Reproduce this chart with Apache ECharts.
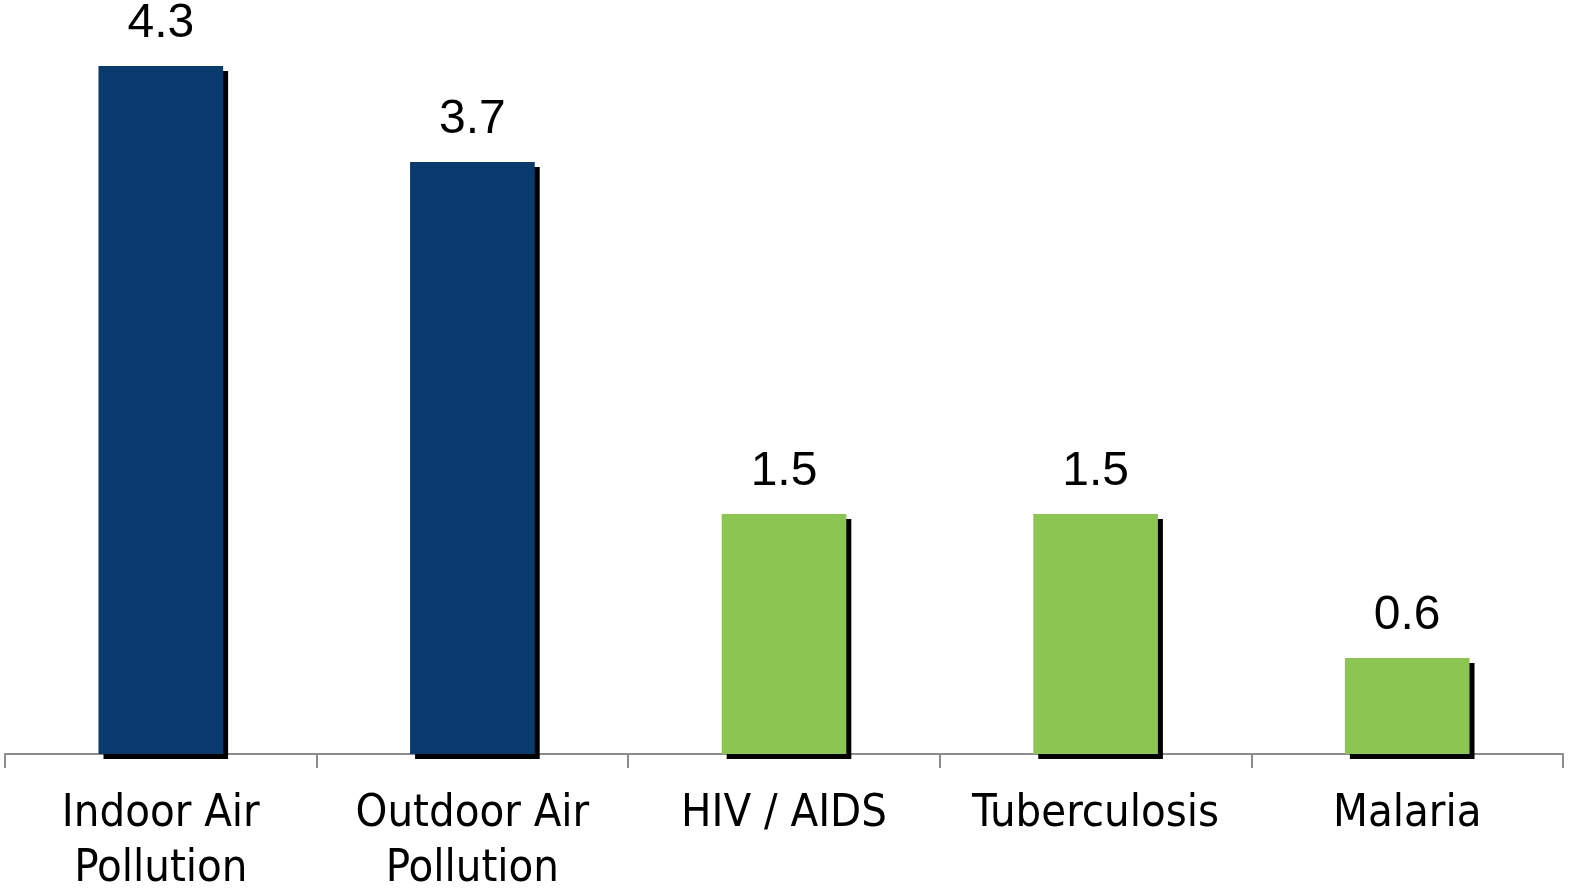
<!DOCTYPE html>
<html>
<head>
<meta charset="utf-8">
<script src="https://cdn.jsdelivr.net/npm/echarts@6/dist/echarts.min.js"></script>
<style>
html,body{margin:0;padding:0;background:#fff;}
#chart{width:1573px;height:888px;}
</style>
</head>
<body>
<div id="chart"></div>
<script>
const categories = ["Indoor Air\nPollution", "Outdoor Air\nPollution", "HIV / AIDS", "Tuberculosis", "Malaria"];
const values = [4.3, 3.7, 1.5, 1.5, 0.6];
const barColors = ["#093A6E", "#093A6E", "#8BC653", "#8BC653", "#8BC653"];

const chart = echarts.init(document.getElementById('chart'));
chart.setOption({
  animation: false,
  grid: {left: 5, right: 10, top: 34, bottom: 134, containLabel: false, outerBoundsMode: 'none'},
  xAxis: {
    type: 'category',
    data: categories,
    axisLine: {lineStyle: {color: '#8C8C8C', width: 2}},
    axisTick: {show: true, length: 14, lineStyle: {color: '#8C8C8C', width: 2}},
    axisLabel: {
      color: '#000', fontSize: 45, lineHeight: 55, margin: 33,
      fontFamily: 'DejaVu Sans Condensed', interval: 0
    }
  },
  yAxis: {type: 'value', min: 0, max: 4.5, show: false, splitLine: {show: false}},
  series: [{
    type: 'bar',
    barWidth: '40%',
    data: values.map((v, i) => ({value: v, itemStyle: {color: barColors[i]}})),
    itemStyle: {shadowColor: '#000', shadowOffsetX: 5, shadowOffsetY: 5, shadowBlur: 0},
    label: {
      show: true, position: 'top', distance: 18,
      color: '#000', fontSize: 48, fontFamily: 'Liberation Sans',
      formatter: p => p.value.toFixed(1)
    }
  }]
});
</script>
</body>
</html>
